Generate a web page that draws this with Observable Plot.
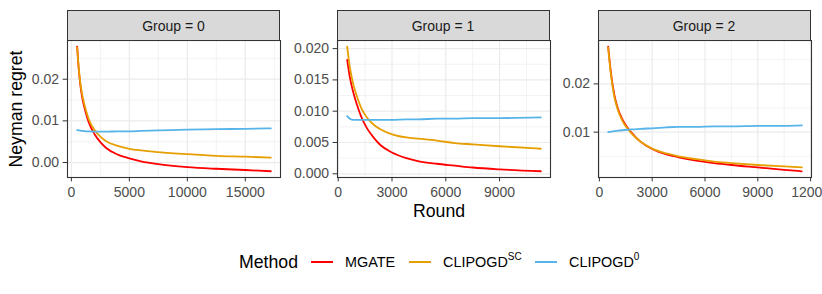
<!DOCTYPE html>
<html><head><meta charset="utf-8">
<script src="https://cdn.jsdelivr.net/npm/d3@7"></script>
<script src="https://cdn.jsdelivr.net/npm/@observablehq/plot@0.6"></script>
<style>
html,body{margin:0;padding:0;background:#fff;}
body{width:822px;height:294px;overflow:hidden;position:relative;font-family:"Liberation Sans",Arial,sans-serif;}
.strip{position:absolute;top:10px;height:31px;background:#D9D9D9;border:1.1px solid #333;box-sizing:border-box;font-size:14px;color:#1A1A1A;display:flex;align-items:center;justify-content:center;}
.pl{position:absolute;}
.pl svg{overflow:visible;max-width:none !important;display:block;}
.ttl{position:absolute;font-size:17.7px;color:#000;white-space:nowrap;}
.key{position:absolute;height:2px;top:261px;}
.lt{position:absolute;top:252px;height:20px;line-height:20px;font-size:14.4px;color:#000;white-space:nowrap;}
.lt sup{font-size:10px;line-height:0;position:relative;top:-1px;}
</style></head><body>
<script>
// ---- data ----
const methodBase = ["MGATE", "CLIPOGD", "CLIPOGD"];
const methodSup = ["", "SC", "0"];
const methods = ["MGATE", "CLIPOGD^SC", "CLIPOGD^0"];
const colors = ["#FF0000", "#E69F00", "#56B4E9"];
const groups = ["Group = 0", "Group = 1", "Group = 2"];

const rounds0 = [500, 600, 700, 850, 1000, 1250, 1500, 2000, 2500, 3000, 4000, 5000, 6000, 7500, 10000, 12500, 15000, 17200];
const mgate0 = [0.0278, 0.0236, 0.0205, 0.0170, 0.0147, 0.0119, 0.0096, 0.0068, 0.0049, 0.0035, 0.0019, 0.0010, 0.0003, -0.0004, -0.0011, -0.0015, -0.0018, -0.0021];
const clipSC0 = [0.0276, 0.0238, 0.0208, 0.0176, 0.0154, 0.0126, 0.0104, 0.0078, 0.0062, 0.0051, 0.0040, 0.0033, 0.0029, 0.0025, 0.0020, 0.0016, 0.0014, 0.0012];
const clip00 = [0.0078, 0.0077, 0.0077, 0.0076, 0.0076, 0.0075, 0.0075, 0.0074, 0.0074, 0.0074, 0.0075, 0.0075, 0.0076, 0.0077, 0.0079, 0.0080, 0.0081, 0.0082];

const rounds1 = [500, 650, 850, 1050, 1300, 1600, 2000, 2350, 3000, 3800, 4500, 5500, 6500, 7500, 9000, 11300];
const mgate1 = [0.0182, 0.0154, 0.0129, 0.0110, 0.0090, 0.0073, 0.0057, 0.0046, 0.0034, 0.0025, 0.0020, 0.0016, 0.0013, 0.0010, 0.0007, 0.0004];
const clipSC1 = [0.0203, 0.0170, 0.0142, 0.0123, 0.0104, 0.0090, 0.0078, 0.0071, 0.0063, 0.0058, 0.0056, 0.0053, 0.0049, 0.0047, 0.0044, 0.0040];
const clip01 = [0.0092, 0.0088, 0.0086, 0.0086, 0.0086, 0.0086, 0.0086, 0.0086, 0.0086, 0.0087, 0.0087, 0.0088, 0.0088, 0.0089, 0.0089, 0.0090];

const rounds2 = [500, 650, 850, 1050, 1300, 1600, 2000, 2350, 3000, 3800, 4500, 5500, 6500, 7500, 9000, 10500, 11500];
const mgate2 = [0.0277, 0.0225, 0.0177, 0.0149, 0.0127, 0.0109, 0.0092, 0.0080, 0.0065, 0.0054, 0.0048, 0.0041, 0.0036, 0.0032, 0.0027, 0.0022, 0.0019];
const clipSC2 = [0.0275, 0.0221, 0.0173, 0.0146, 0.0124, 0.0107, 0.0091, 0.0080, 0.0066, 0.0056, 0.0050, 0.0044, 0.0039, 0.0036, 0.0032, 0.0029, 0.0027];
const clip02 = [0.0100, 0.0101, 0.0102, 0.0103, 0.0104, 0.0105, 0.0106, 0.0107, 0.0108, 0.0110, 0.0111, 0.0111, 0.0112, 0.0112, 0.0113, 0.0113, 0.0114];

const xTicks0 = [0, 5000, 10000, 15000];
const xTicks1 = [0, 3000, 6000, 9000];
const xTicks2 = [0, 3000, 6000, 9000, 12000];
const yTicks0 = [0, 0.01, 0.02];
const yLabels0 = ["0.00", "0.01", "0.02"];
const yTicks1 = [0, 0.005, 0.01, 0.015, 0.02];
const yLabels1 = ["0.000", "0.005", "0.010", "0.015", "0.020"];
const yTicks2 = [0.01, 0.02];
const yLabels2 = ["0.01", "0.02"];

// ---- layout ----
const panels = [
  {rounds: rounds0, series: [mgate0, clipSC0, clip00], xt: xTicks0, yt: yTicks0, yl: yLabels0, left: 67},
  {rounds: rounds1, series: [mgate1, clipSC1, clip01], xt: xTicks1, yt: yTicks1, yl: yLabels1, left: 336.5},
  {rounds: rounds2, series: [mgate2, clipSC2, clip02], xt: xTicks2, yt: yTicks2, yl: yLabels2, left: 597.5}
];
const PW = 213, PH = 137, PT = 40;
const ML = 60, MR = 30, MT = 5, MB = 35;

function expand(vals) {
  const lo = d3.min(vals), hi = d3.max(vals), r = hi - lo;
  return [lo - 0.05 * r, hi + 0.05 * r];
}
function minors(t, dom) {
  const s = t[1] - t[0];
  const out = [];
  for (let v = t[0] - s / 2; v <= dom[1]; v += s) if (v >= dom[0]) out.push(v);
  return out;
}

panels.forEach((p, g) => {
  const data = [];
  p.rounds.forEach((r, i) => p.series.forEach((s, k) => data.push({round: r, value: s[i], method: methods[k]})));
  const xd = expand(p.rounds);
  const yd = expand(p.series.flat());
  const chart = Plot.plot({
    width: ML + PW + MR, height: MT + PH + MB,
    marginLeft: ML, marginRight: MR, marginTop: MT, marginBottom: MB,
    x: {domain: xd, label: null},
    y: {domain: yd, label: null},
    color: {domain: methods, range: colors},
    style: {fontFamily: "Liberation Sans, Arial, sans-serif", fontSize: "14px", background: "transparent", overflow: "visible"},
    marks: [
      Plot.ruleX(minors(p.xt, xd), {stroke: "#EBEBEB", strokeWidth: 0.6}),
      Plot.ruleY(minors(p.yt, yd), {stroke: "#EBEBEB", strokeWidth: 0.6}),
      Plot.ruleX(p.xt, {stroke: "#EBEBEB", strokeWidth: 1.2}),
      Plot.ruleY(p.yt, {stroke: "#EBEBEB", strokeWidth: 1.2}),
      Plot.line(data, {x: "round", y: "value", stroke: "method", z: "method", strokeWidth: 1.8, curve: "monotone-x"}),
      Plot.frame({stroke: "#333333", strokeWidth: 1.1}),
      Plot.axisX({ticks: p.xt, tickSize: 4.4, tickPadding: 5.5, stroke: "#333333", fill: "#4D4D4D", tickFormat: d => String(d), label: null}),
      Plot.axisY({ticks: p.yt, tickSize: 4.4, tickPadding: 4, stroke: "#333333", fill: "#4D4D4D", tickFormat: d => p.yl[p.yt.indexOf(d)], label: null})
    ]
  });
  const wrap = document.createElement("div");
  wrap.className = "pl";
  wrap.style.left = (p.left - ML) + "px";
  wrap.style.top = (PT - MT) + "px";
  wrap.style.width = (ML + PW + MR) + "px";
  wrap.style.height = (MT + PH + MB) + "px";
  wrap.appendChild(chart);
  document.body.appendChild(wrap);

  const strip = document.createElement("div");
  strip.className = "strip";
  strip.style.left = p.left + "px";
  strip.style.width = PW + "px";
  strip.textContent = groups[g];
  document.body.appendChild(strip);
});

// axis titles
const yt = document.createElement("div");
yt.className = "ttl";
yt.textContent = "Neyman regret";
yt.style.left = "16px"; yt.style.top = "108.5px";
yt.style.transform = "translate(-50%,-50%) rotate(-90deg)";
document.body.appendChild(yt);
const xt = document.createElement("div");
xt.className = "ttl";
xt.textContent = "Round";
xt.style.left = "439px"; xt.style.top = "210.5px";
xt.style.transform = "translate(-50%,-50%)";
document.body.appendChild(xt);

// legend
const lt = document.createElement("div");
lt.className = "ttl";
lt.textContent = "Method";
lt.style.left = "239px"; lt.style.top = "262px";
lt.style.transform = "translate(0,-50%)";
document.body.appendChild(lt);
const keyX = [311, 409, 535];
const textX = [345, 443, 569];
methods.forEach((m, k) => {
  const key = document.createElement("div");
  key.className = "key";
  key.style.left = keyX[k] + "px"; key.style.width = "22px"; key.style.background = colors[k];
  document.body.appendChild(key);
  const t = document.createElement("div");
  t.className = "lt";
  t.style.left = textX[k] + "px";
  t.innerHTML = methodBase[k] + (methodSup[k] ? "<sup>" + methodSup[k] + "</sup>" : "");
  document.body.appendChild(t);
});
</script>
</body></html>
